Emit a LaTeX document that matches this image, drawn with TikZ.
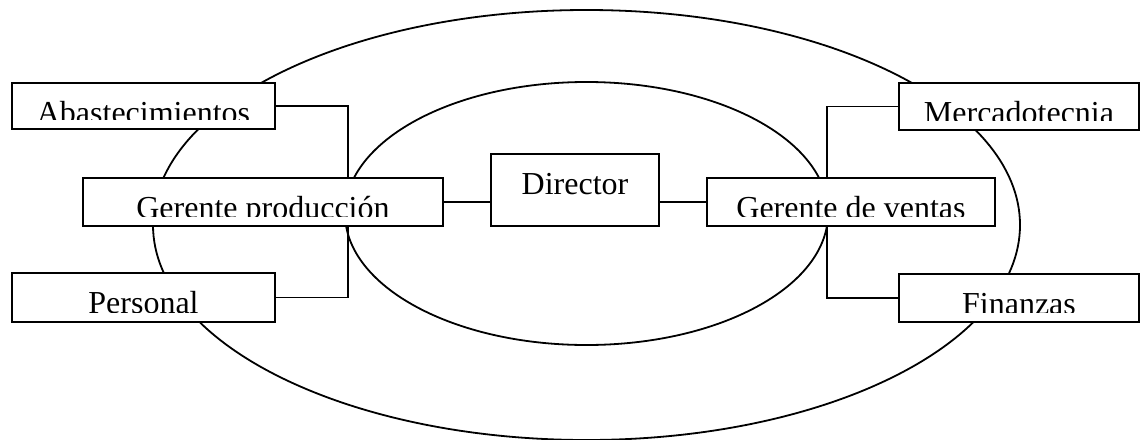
\documentclass[tikz,border=0pt]{standalone}
\usepackage{fontspec}
\setmainfont{Liberation Serif}
\tikzset{
  orgbox/.style={draw, fill=white, line width=1.8pt, rectangle, inner sep=0pt},
  lbl/.style={inner sep=0pt, font=\fontsize{32}{36}\selectfont},
  link/.style={line width=1.8pt},
  ring/.style={line width=1.8pt}
}
% text placed near the top of a box, cut off a little above its lower edge
\newcommand\orgtext[3]{%
  \begin{scope}
    \clip (#1.north west) rectangle ([yshift=10pt]#1.south east);
    \node[lbl, anchor=base] (#3) at ([yshift=-41pt]#1.north) {#2};
  \end{scope}}
\begin{document}
\begin{tikzpicture}[x=1pt, y=-1pt]
  \useasboundingbox (0,0) rectangle (1142,439);
  % two rings
  \draw[ring] (586.5,225) ellipse [x radius=433.5pt, y radius=215pt];
  \draw[ring] (586.5,213.5) ellipse [x radius=241.5pt, y radius=131.5pt];

  % boxes
  \node[orgbox, minimum width=263pt, minimum height=46pt] (abast) at (143.5,106) {};
  \node[orgbox, minimum width=263pt, minimum height=49pt] (pers)  at (143.5,297.5) {};
  \node[orgbox, minimum width=168pt, minimum height=72pt] (dir)   at (575,190) {};
  \node[orgbox, minimum width=240pt, minimum height=47pt] (merc)  at (1019,106.5) {};
  \node[orgbox, minimum width=240pt, minimum height=48pt] (fin)   at (1019,298) {};

  % branch points
  \coordinate (pj) at (348,0);
  \coordinate (vj) at (827,0);

  % connectors
  \draw[link] (abast.east) -| (pj |- pers.east) -- (pers.east);
  \draw[link] (merc.west) -| (vj |- fin.west) -- (fin.west);

  % manager boxes drawn over the branch lines
  \node[orgbox, minimum width=360pt, minimum height=48pt] (gprod) at (263,202) {};
  \node[orgbox, minimum width=288pt, minimum height=48pt] (gvent) at (851,202) {};
  \draw[link] (gprod.east) -- (gprod.east -| dir.west);
  \draw[link] (gvent.west) -- (gvent.west -| dir.east);

  % labels
  \orgtext{abast}{Abastecimientos}{abastT}
  \orgtext{gprod}{Gerente producción}{gprodT}
  \orgtext{pers}{Personal}{persT}
  \orgtext{dir}{Director}{dirT}
  \orgtext{gvent}{Gerente de ventas}{gventT}
  \orgtext{merc}{Mercadotecnia}{mercT}
  \orgtext{fin}{Finanzas}{finT}
\end{tikzpicture}
\end{document}
